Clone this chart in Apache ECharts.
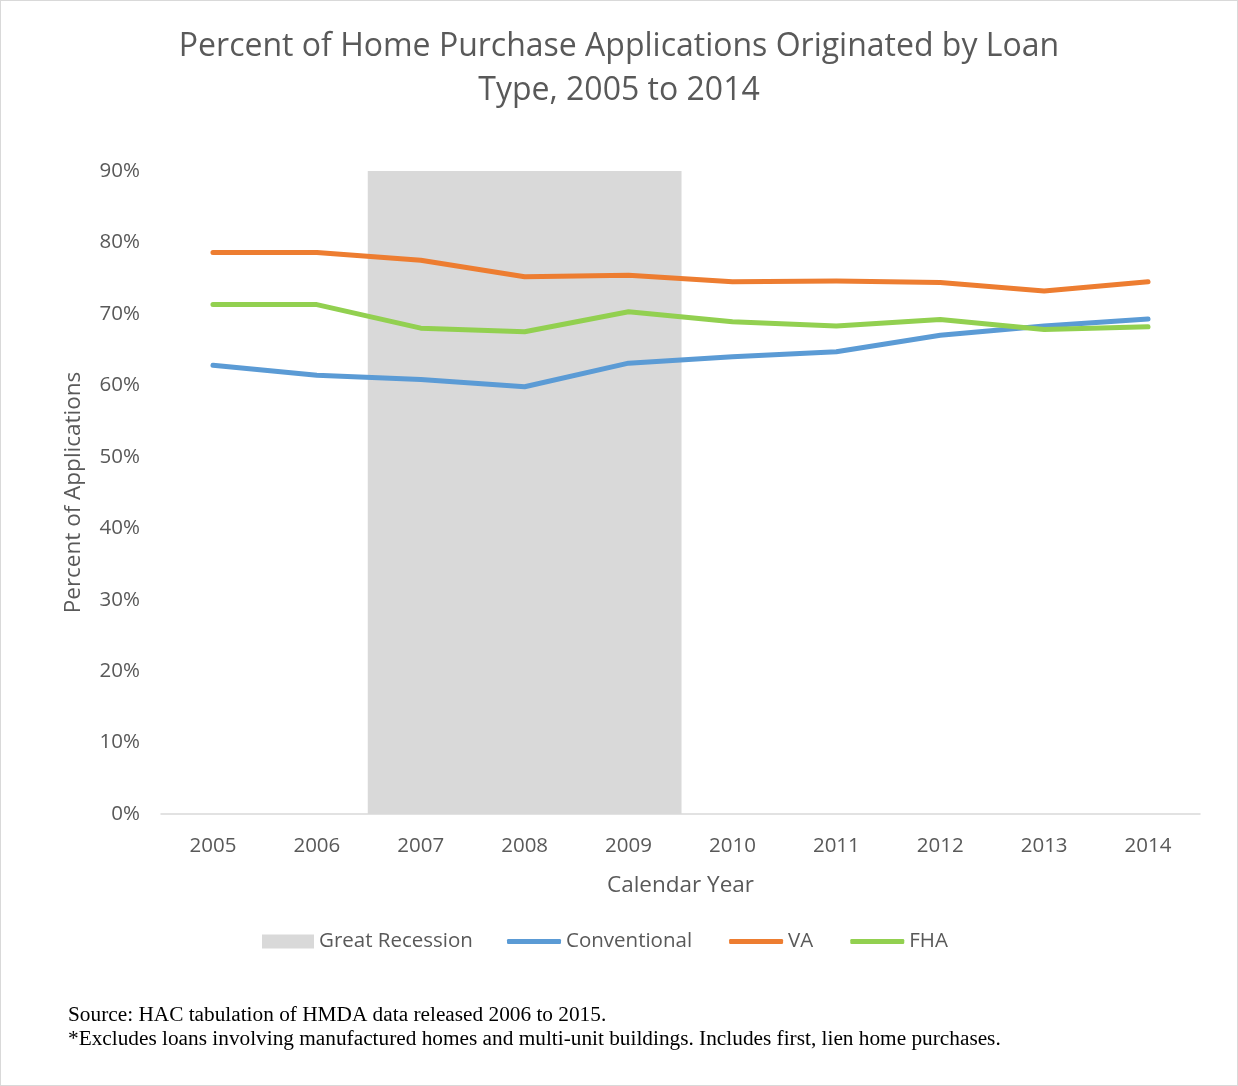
<!DOCTYPE html>
<html>
<head>
<meta charset="utf-8">
<script src="https://cdn.jsdelivr.net/npm/echarts@6/dist/echarts.min.js"></script>
<style>
  html, body { margin: 0; padding: 0; background: #fff; }
  #main { width: 1236px; height: 1084px; border: 1px solid #d9d9d9; }
</style>
</head>
<body>
<div id="main"></div>
<script>
	var years = ['2005','2006','2007','2008','2009','2010','2011','2012','2013','2014'];
	var recession = [null, null, 90, 90, 90, null, null, null, null, null];
	var conventional = [62.8, 61.4, 60.8, 59.8, 63.1, 64.0, 64.7, 67.0, 68.3, 69.3];
	var va = [78.6, 78.6, 77.5, 75.2, 75.4, 74.5, 74.6, 74.4, 73.2, 74.5];
	var fha = [71.3, 71.3, 68.0, 67.5, 70.3, 68.9, 68.3, 69.2, 67.8, 68.2];

	var font = '"Open Sans", "Noto Sans", sans-serif';
	var grey = '#595959';

	var myChart = echarts.init(document.getElementById('main'));

	function lineSeries(name, data, color) {
		return {
			name: name,
			type: 'line',
			data: data,
			symbol: 'none',
			z: 3,
			lineStyle: { width: 5, color: color, cap: 'round', join: 'round' },
			itemStyle: { color: color }
		};
	}

	var legendText = { fontFamily: font, fontSize: 20.5, color: grey };

	var option = {
		animation: false,
		title: {
			text: 'Percent of Home Purchase Applications Originated by Loan\nType, 2005 to 2014',
			left: 'center',
			top: 19,
			textStyle: { fontFamily: font, fontSize: 32, fontWeight: 'normal', color: grey, lineHeight: 44 }
		},
		legend: [
			{
				top: 930,
				left: 261,
				padding: 0,
				itemWidth: 52,
				itemHeight: 14,
				textStyle: legendText,
				data: [{ name: 'Great Recession', icon: 'rect' }]
			},
			{
				top: 930,
				left: 506,
				padding: 0,
				itemWidth: 54,
				itemHeight: 5,
				itemGap: 37,
				textStyle: legendText,
				data: [
					{ name: 'Conventional', icon: 'roundRect' },
					{ name: 'VA', icon: 'roundRect' },
					{ name: 'FHA', icon: 'roundRect' }
				]
			}
		],
		grid: { left: 160, right: 37, top: 170, bottom: 271 },
		xAxis: {
			type: 'category',
			data: years,
			name: 'Calendar Year',
			nameLocation: 'middle',
			nameGap: 60,
			nameTextStyle: { fontFamily: font, fontSize: 22.5, color: grey },
			axisLine: { lineStyle: { color: '#d9d9d9', width: 1.5 } },
			axisTick: { inside: true, length: 6, lineStyle: { color: '#d9d9d9', width: 1.5 } },
			axisLabel: { fontFamily: font, fontSize: 20.5, color: grey, margin: 22 }
		},
		yAxis: {
			type: 'value',
			min: 0,
			max: 90,
			interval: 10,
			name: 'Percent of Applications',
			nameLocation: 'middle',
			nameGap: 76,
			nameTextStyle: { fontFamily: font, fontSize: 22.5, color: grey },
			axisLine: { show: false },
			axisTick: { show: false },
			splitLine: { show: false },
			axisLabel: { fontFamily: font, fontSize: 20.5, color: grey, margin: 21, formatter: '{value}%' }
		},
		series: [
			{
				name: 'Great Recession',
				type: 'bar',
				data: recession,
				barWidth: '102%',
				z: 1,
				itemStyle: { color: '#d9d9d9' }
			},
			lineSeries('Conventional', conventional, '#5b9bd5'),
			lineSeries('VA', va, '#ed7d31'),
			lineSeries('FHA', fha, '#92d050')
		],
		graphic: [
			{
				type: 'text', left: 67, top: 1004,
				style: { text: 'Source: HAC tabulation of HMDA data released 2006 to 2015.', font: '21.3px "Liberation Serif", serif', fill: '#000' }
			},
			{
				type: 'text', left: 67, top: 1028,
				style: { text: '*Excludes loans involving manufactured homes and multi-unit buildings. Includes first, lien home purchases.', font: '21.3px "Liberation Serif", serif', fill: '#000' }
			}
		]
	};

	myChart.setOption(option);
</script>
</body>
</html>
